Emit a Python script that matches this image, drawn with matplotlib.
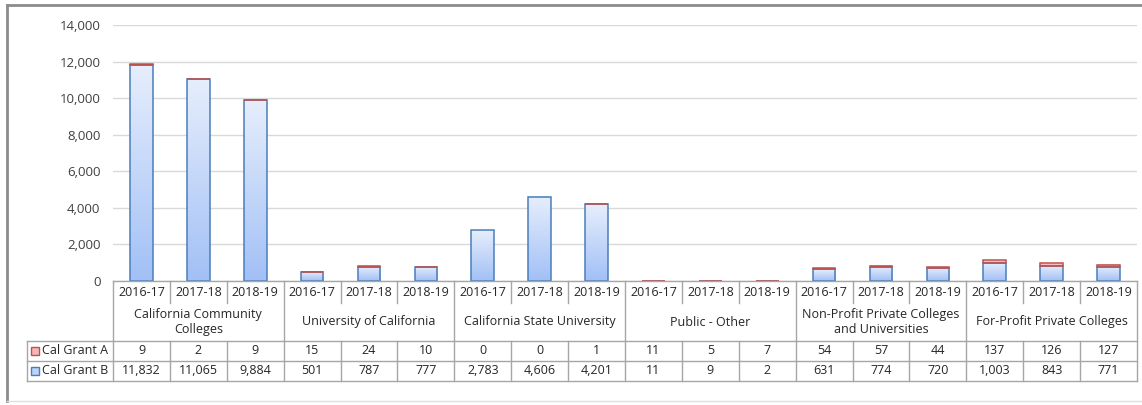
import numpy as np
import matplotlib
matplotlib.use("Agg")
import matplotlib.pyplot as plt
from matplotlib.transforms import blended_transform_factory
from matplotlib.patches import Rectangle
from matplotlib.colors import LinearSegmentedColormap

plt.rcParams['font.family'] = ['Open Sans', 'DejaVu Sans']

# data
groups = ['California Community\nColleges', 'University of California', 'California State University',
          'Public - Other', 'Non-Profit Private Colleges\nand Universities', 'For-Profit Private Colleges']
years = ['2016-17', '2017-18', '2018-19']
grant_a = [9, 2, 9, 15, 24, 10, 0, 0, 1, 11, 5, 7, 54, 57, 44, 137, 126, 127]
grant_b = [11832, 11065, 9884, 501, 787, 777, 2783, 4606, 4201, 11, 9, 2, 631, 774, 720, 1003, 843, 771]
series_names = ['Cal Grant A', 'Cal Grant B']

W, H = 1142, 405
fig = plt.figure(figsize=(W / 100, H / 100), dpi=100)

def fy(py):
    return 1 - py / H

def fx(px):
    return px / W

left, right, top, bottom = 113, 1137, 25, 281
ax = fig.add_axes([fx(left), fy(bottom), fx(right - left), fy(top) - fy(bottom)])

n = len(grant_b)
x = np.arange(n)
bw = 0.40

grad = np.linspace(0, 1, 100).reshape(-1, 1)
bcmap = LinearSegmentedColormap.from_list('b', ['#a2c0f6', '#e6eefc'])
rcmap = LinearSegmentedColormap.from_list('r', ['#f0a0a0', '#fbdcdc'])

for i in range(n):
    b = grant_b[i]
    a = grant_a[i]
    ax.imshow(grad, cmap=bcmap, extent=(x[i] - bw / 2, x[i] + bw / 2, 0, b),
              aspect='auto', origin='lower', zorder=2)
    ax.add_patch(Rectangle((x[i] - bw / 2, 0), bw, b, fill=False, edgecolor='#4a7ebb', lw=1.1, zorder=3))
    if a > 0:
        ax.imshow(grad, cmap=rcmap, extent=(x[i] - bw / 2, x[i] + bw / 2, b, b + a),
                  aspect='auto', origin='lower', zorder=2)
        ax.add_patch(Rectangle((x[i] - bw / 2, b), bw, a, fill=False, edgecolor='#c0504d', lw=1.1, zorder=3))

ax.set_xlim(-0.5, n - 0.5)
ax.set_ylim(0, 14000)
ax.set_yticks(np.arange(0, 14001, 2000))
ax.set_yticklabels([f'{v:,}' for v in range(0, 14001, 2000)], fontsize=9.5, color='#404040')
ax.tick_params(axis='y', length=0, pad=9)
ax.set_xticks([])
ax.grid(axis='y', color='#d9d9d9', lw=1)
ax.set_axisbelow(True)
for s in ax.spines.values():
    s.set_visible(False)

# table under the chart
tr = blended_transform_factory(ax.transData, fig.transFigure)
lc = '#a6a6a6'
fs = 9
tc = '#262626'

def hline(px0, px1, py):
    fig.add_artist(plt.Line2D([fx(px0), fx(px1)], [fy(py), fy(py)], color=lc, lw=1))

def vline_d(xd, py0, py1):
    fig.add_artist(plt.Line2D([xd, xd], [fy(py0), fy(py1)], color=lc, lw=1, transform=tr))

hline(left, right, 281)
hline(27, right, 341)
hline(27, right, 361)
hline(27, right, 381)
fig.add_artist(plt.Line2D([fx(27), fx(27)], [fy(341), fy(381)], color=lc, lw=1))

for i in range(n + 1):
    xb = i - 0.5
    if i % 3 == 0:
        vline_d(xb, 281, 381)
    else:
        vline_d(xb, 281, 303)
        vline_d(xb, 341, 381)

for i in range(n):
    fig.text(x[i], fy(293), years[i % 3], transform=tr, ha='center', va='center', fontsize=fs, color=tc)
    fig.text(x[i], fy(351), f'{grant_a[i]:,}', transform=tr, ha='center', va='center', fontsize=fs, color=tc)
    fig.text(x[i], fy(371), f'{grant_b[i]:,}', transform=tr, ha='center', va='center', fontsize=fs, color=tc)

for g, name in enumerate(groups):
    fig.text(g * 3 + 1, fy(322), name, transform=tr, ha='center', va='center', fontsize=fs,
             color=tc, linespacing=1.25)

# legend keys in the table
keys = [('#f4b6b6', '#c0504d'), ('#bcd2f7', '#4a7ebb')]
for k, (name, (fc, ec)) in enumerate(zip(series_names, keys)):
    cy = 351 + 20 * k
    fig.add_artist(Rectangle((fx(31), fy(cy + 4)), fx(8), fy(cy - 4) - fy(cy + 4),
                             facecolor=fc, edgecolor=ec, lw=1, transform=fig.transFigure))
    fig.text(fx(42), fy(cy), name, ha='left', va='center', fontsize=fs, color=tc)

# outer chart border
fig.add_artist(plt.Line2D([fx(7), fx(W)], [fy(5), fy(5)], color='#8c8c8c', lw=2))
fig.add_artist(plt.Line2D([fx(7), fx(7)], [fy(5), fy(401)], color='#8c8c8c', lw=2))
fig.add_artist(plt.Line2D([fx(7), fx(W)], [fy(401), fy(401)], color='#e0e0e0', lw=1))

fig.savefig('out.png', dpi=100)
